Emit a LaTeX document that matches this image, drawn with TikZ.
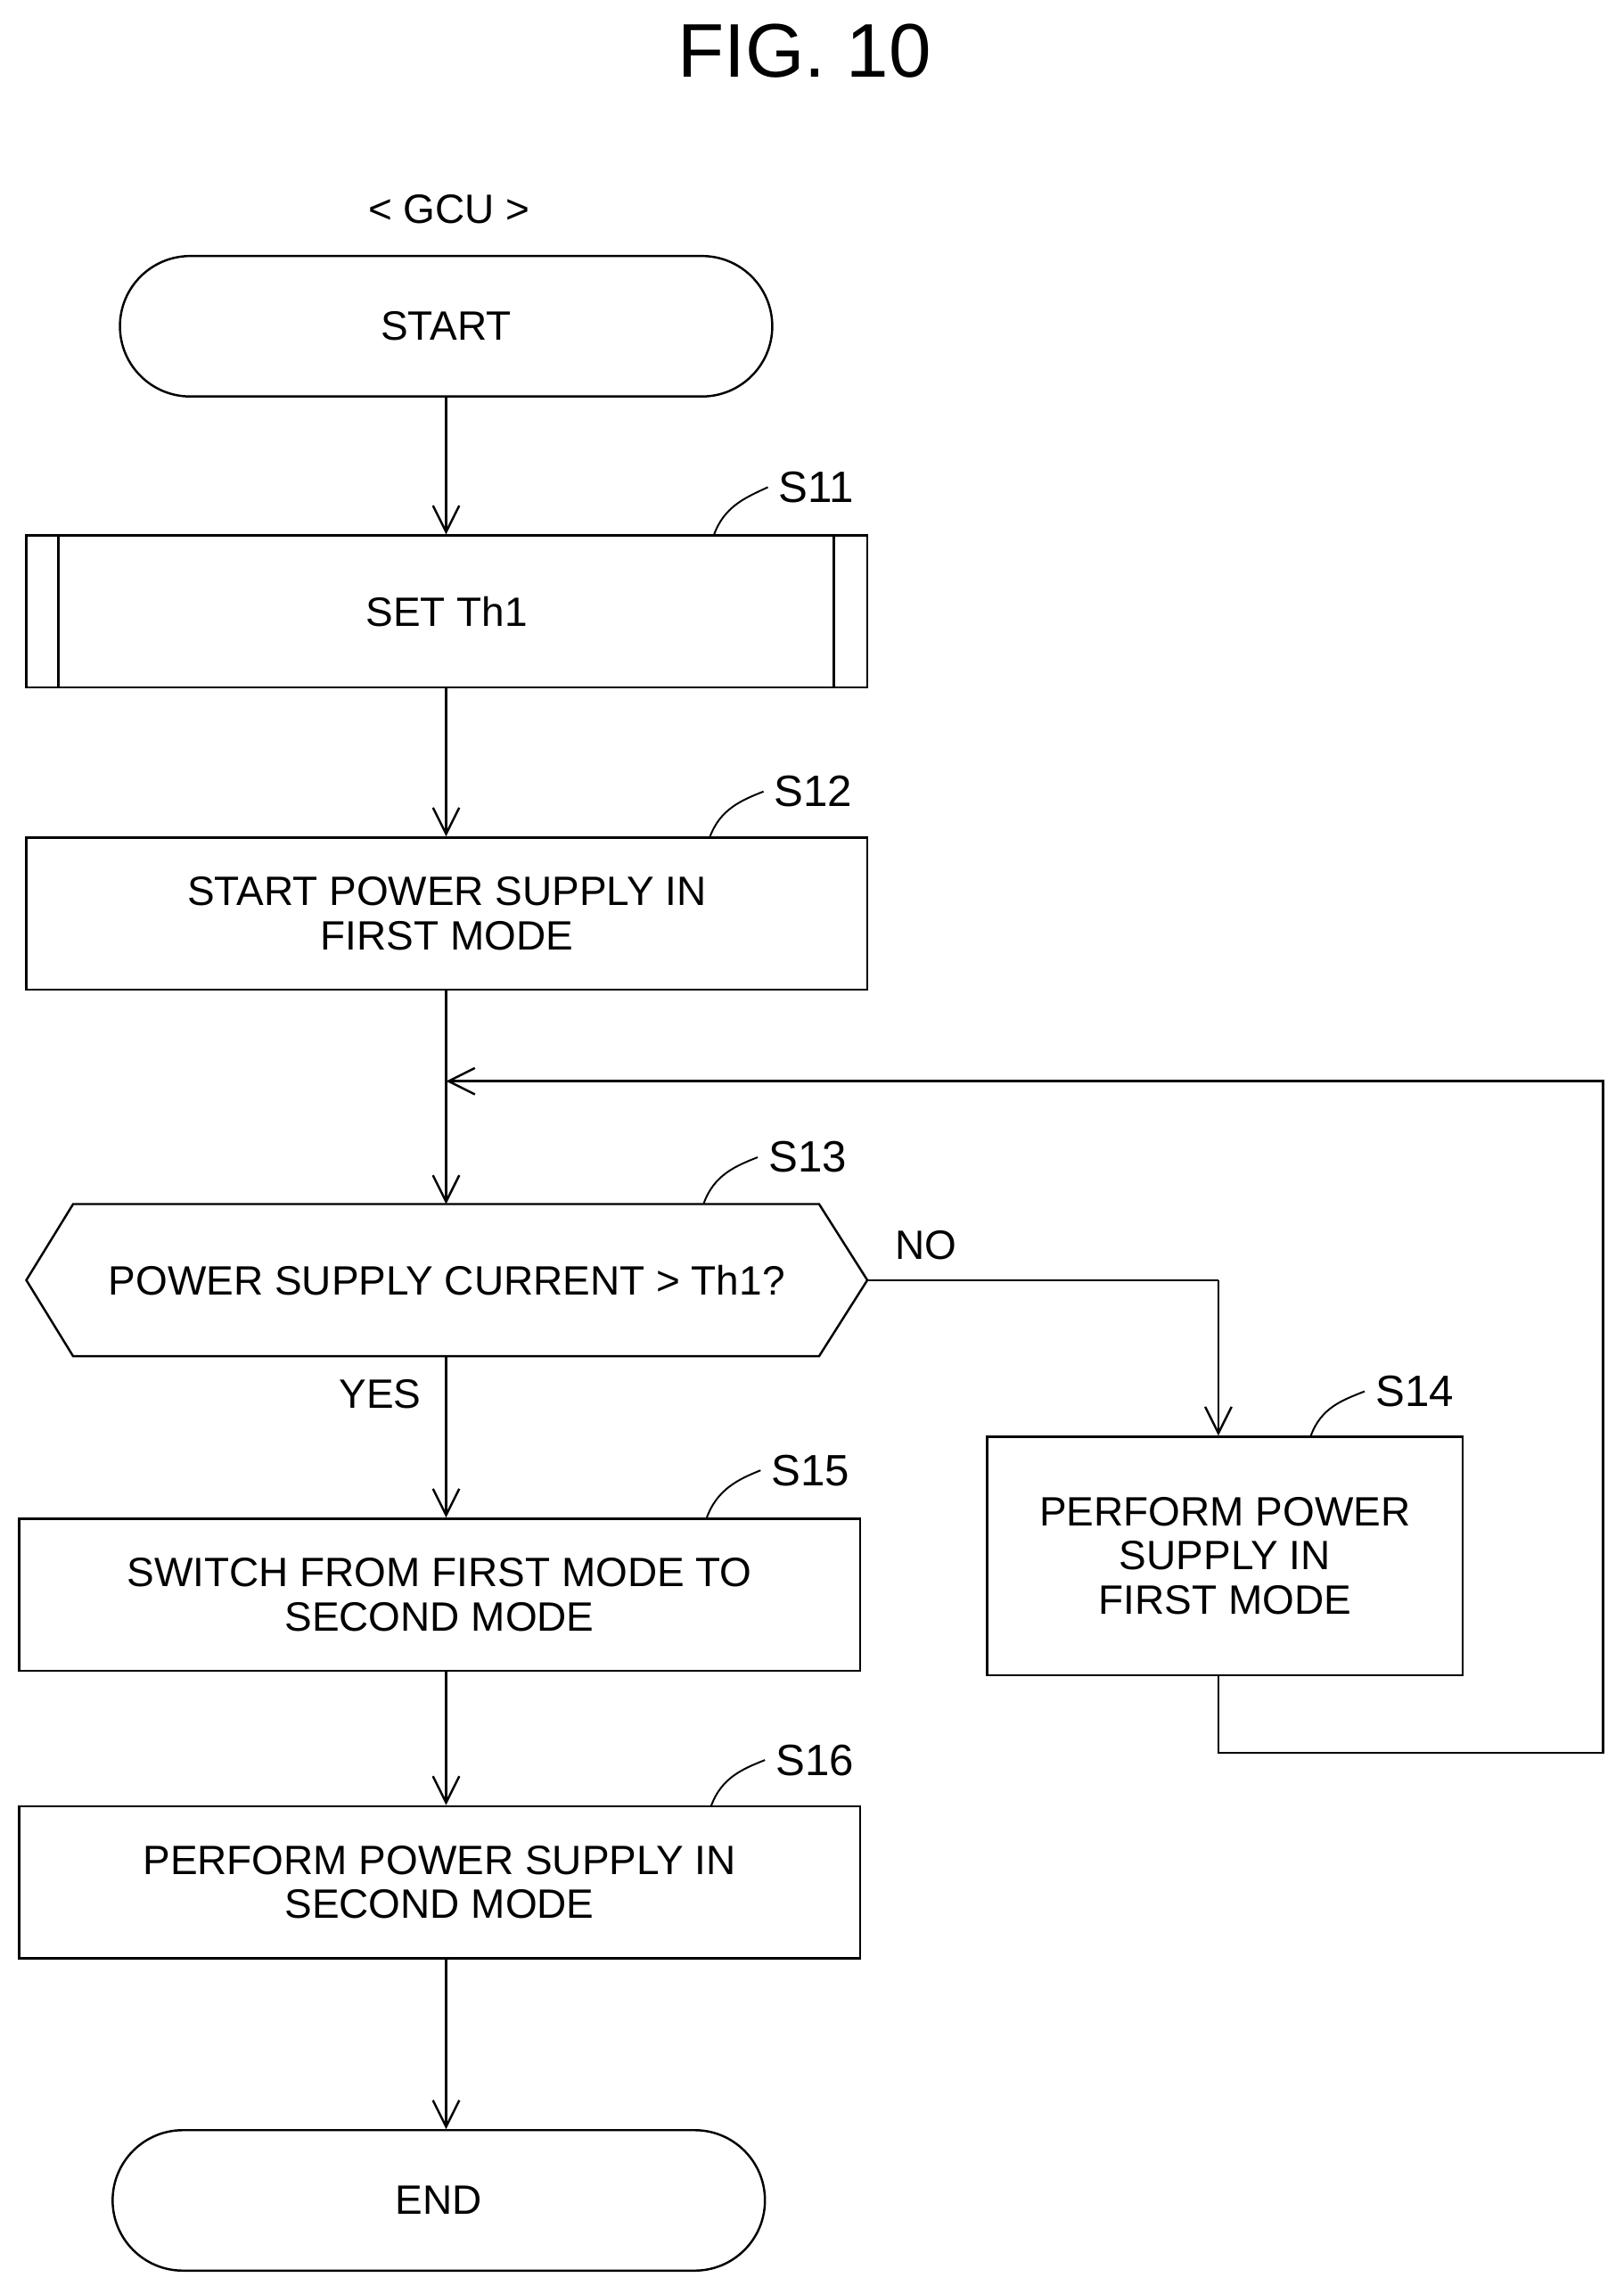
\documentclass[tikz,border=0pt]{standalone}
\usepackage{fontspec}
\setmainfont{Liberation Sans}
\usetikzlibrary{arrows.meta,shapes.misc}
\tikzset{every picture/.style={line width=0.75pt}}
\tikzset{
  box/.style={draw,rectangle,minimum width=287.5pt,minimum height=52pt,align=center,font=\fontsize{14}{15}\selectfont,inner sep=0pt},
  term/.style={draw,rounded rectangle,minimum width=223pt,minimum height=48pt,font=\fontsize{14}{15}\selectfont,inner sep=0pt},
  flow/.style={-{Straight Barb[length=9pt,width=9pt]}},
  stepno/.style={font=\fontsize{15}{16}\selectfont,anchor=west},
  lead/.style={line width=0.6pt}
}
\begin{document}
\begin{tikzpicture}[x=0.5pt,y=0.5pt,yscale=-1,xscale=1]
\useasboundingbox (0,0) rectangle (1110,1568);

% Title
\node (fig) at (550,35) {\fontsize{26}{30}\selectfont FIG. 10};
\node (gcu) at (307,143) {\fontsize{14}{15}\selectfont < GCU >};

% Terminals and boxes
\node[term] (start) at (305,223) {START};
\node[box] (s11) at (305.5,418) {SET Th1};
\draw (40,366) -- (40,470) (570,366) -- (570,470);
\node[box] (s12) at (305.5,624.5) {START POWER SUPPLY IN\\FIRST MODE};

% Decision
\draw (18,875) -- (50,823) -- (560,823) -- (593,875) -- (560,927) -- (50,927) -- cycle;
\node[font=\fontsize{14}{15}\selectfont] (s13) at (305.5,875) {POWER SUPPLY CURRENT > Th1?};
\coordinate (s13n) at (305,823);
\coordinate (s13e) at (593,875);
\coordinate (s13s) at (305,927);

\node[box,minimum width=162.5pt,minimum height=81.5pt] (s14) at (837.5,1063.5) {PERFORM POWER\\SUPPLY IN\\FIRST MODE};
\node[box] (s15) at (300.5,1090) {SWITCH FROM FIRST MODE TO\\SECOND MODE};
\node[box] (s16) at (300.5,1286.5) {PERFORM POWER SUPPLY IN\\SECOND MODE};
\node[term] (end) at (300,1504) {END};

% Step labels
\node[stepno] (l11) at (525,333) {S11};
\node[stepno] (l12) at (522,541) {S12};
\node[stepno] (l13) at (518,791) {S13};
\node[stepno] (l14) at (933,951) {S14};
\node[stepno] (l15) at (520,1005) {S15};
\node[stepno] (l16) at (523,1203) {S16};
\draw[lead] (488,366) .. controls (495,346) and (510,340) .. (l11.west);
\draw[lead] (485,573) .. controls (492,553) and (507,547) .. (l12.west);
\draw[lead] (481,823) .. controls (488,803) and (503,797) .. (l13.west);
\draw[lead] (896,982) .. controls (903,962) and (918,957) .. (l14.west);
\draw[lead] (483,1038) .. controls (490,1018) and (505,1011) .. (l15.west);
\draw[lead] (486,1235) .. controls (493,1215) and (508,1209) .. (l16.west);

% Connectors
\coordinate (join) at (305,739);
\coordinate (c1) at (833,875);
\coordinate (c2) at (833,1198);
\coordinate (c3) at (1096,1198);
\coordinate (c4) at (1096,739);
\draw[flow] (start.south) -- (s11.north -| start.south);
\draw[flow] (s11.south -| start.south) -- (s12.north -| start.south);
\draw[flow] (s12.south -| start.south) -- (s13n);
\draw (s13e) -- (c1);
\draw[flow] (c1) -- (s14.north -| c1);
\draw[flow] (s13s) -- (s15.north -| s13s);
\draw[flow] (s15.south -| s13s) -- (s16.north -| s13s);
\draw[flow] (s16.south -| s13s) -- (end.north -| s13s);
\draw[flow] (s14.south -| c1) -- (c2) -- (c3) -- (c4) -- (join);

% Branch labels
\node[font=\fontsize{14}{15}\selectfont] (no) at (633,851) {NO};
\node[font=\fontsize{14}{15}\selectfont] (yes) at (260,953) {YES};
\end{tikzpicture}
\end{document}
